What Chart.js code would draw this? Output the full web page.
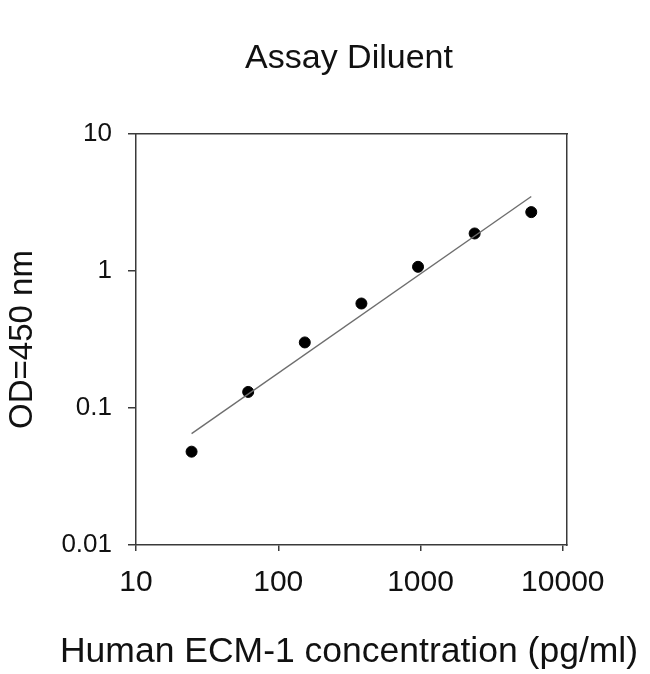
<!DOCTYPE html>
<html>
<head>
<meta charset="utf-8">
<script src="https://cdn.jsdelivr.net/npm/chart.js@4.4.1/dist/chart.umd.min.js"></script>
<style>
  html, body { margin: 0; padding: 0; background: #ffffff; }
  #wrap { width: 650px; height: 674px; }
</style>
</head>
<body>
<div id="wrap"><canvas id="c" width="650" height="674"></canvas></div>
<script>
// ---- data ----
const concentration = [24.58, 61.44, 153.6, 384, 960, 2400, 6000];   // pg/ml
const odValues      = [0.048, 0.131, 0.301, 0.579, 1.073, 1.879, 2.69];
const fitX          = [24.58, 6000];
const fitY          = [0.065, 3.5];
const xTickValues   = [10, 100, 1000, 10000];
const yTickValues   = [0.01, 0.1, 1, 10];
const chartTitle    = 'Assay Diluent';
const xTitle        = 'Human ECM-1 concentration (pg/ml)';
const yTitle        = 'OD=450 nm';

const FONT = 'Liberation Sans, Arial, sans-serif';
const AXIS = '#3a3a3a';
const TEXT = '#111111';

const points = concentration.map((x, i) => ({ x: x, y: odValues[i] }));
const fitLine = fitX.map((x, i) => ({ x: x, y: fitY[i] }));

function fixTicks(values) {
  return function (scale) { scale.ticks = values.map(v => ({ value: v })); };
}

new Chart(document.getElementById('c'), {
  type: 'scatter',
  data: {
    datasets: [
      {
        type: 'line',
        data: fitLine,
        borderColor: '#6e6e6e',
        borderWidth: 1.4,
        pointRadius: 0,
        fill: false,
        tension: 0
      },
      {
        type: 'scatter',
        data: points,
        backgroundColor: '#000000',
        borderColor: '#000000',
        pointRadius: 5.5,
        pointHoverRadius: 5.5
      }
    ]
  },
  options: {
    responsive: false,
    animation: false,
    devicePixelRatio: 1,
    layout: { padding: { left: 48, right: 0, top: 0, bottom: 0 } },
    plugins: {
      legend: { display: false },
      tooltip: { enabled: false },
      title: {
        display: true,
        position: 'top',
        text: chartTitle,
        color: TEXT,
        font: { family: FONT, size: 34, weight: 'normal', lineHeight: 1.2 },
        padding: { top: 38.6, bottom: 54.6 }
      },
      subtitle: {
        display: true,
        position: 'bottom',
        text: xTitle,
        color: TEXT,
        font: { family: FONT, size: 35.5, weight: 'normal', lineHeight: 1.2 },
        padding: { top: 0, bottom: 0 }
      }
    },
    scales: {
      x: {
        type: 'logarithmic',
        position: 'bottom',
        min: 10,
        max: 10700,
        afterBuildTicks: fixTicks(xTickValues),
        afterFit: function (s) { s.height = 86.4; },
        grid: { drawOnChartArea: false, drawTicks: true, tickLength: 6, color: AXIS, lineWidth: 1.5 },
        border: { display: true, color: AXIS, width: 1.5 },
        ticks: {
          color: TEXT,
          padding: 14,
          maxRotation: 0,
          autoSkip: false,
          font: { family: FONT, size: 30 },
          callback: function (v) { return String(v); }
        },
        title: { display: false }
      },
      y: {
        type: 'logarithmic',
        position: 'left',
        min: 0.01,
        max: 10,
        afterBuildTicks: fixTicks(yTickValues),
        afterFit: function (s) { s.width = 88; },
        grid: { drawOnChartArea: false, drawTicks: true, tickLength: 8, color: AXIS, lineWidth: 1.5 },
        border: { display: true, color: AXIS, width: 1.5 },
        ticks: {
          color: TEXT,
          padding: 16,
          autoSkip: false,
          font: { family: FONT, size: 26 },
          callback: function (v) { return String(v); }
        },
        title: {
          display: true,
          text: yTitle,
          color: TEXT,
          font: { family: FONT, size: 33, lineHeight: 1.2 },
          padding: { top: -45.3, bottom: 0 }
        }
      },
      xTop: {
        type: 'logarithmic',
        position: 'top',
        min: 10,
        max: 10700,
        afterFit: function (s) { s.height = 0; },
        grid: { drawOnChartArea: false, drawTicks: false },
        border: { display: true, color: AXIS, width: 1.5 },
        ticks: { display: false }
      },
      yRight: {
        type: 'logarithmic',
        position: 'right',
        min: 0.01,
        max: 10,
        afterFit: function (s) { s.width = 83; },
        grid: { drawOnChartArea: false, drawTicks: false },
        border: { display: true, color: AXIS, width: 1.5 },
        ticks: { display: false }
      }
    }
  }
});
</script>
</body>
</html>
